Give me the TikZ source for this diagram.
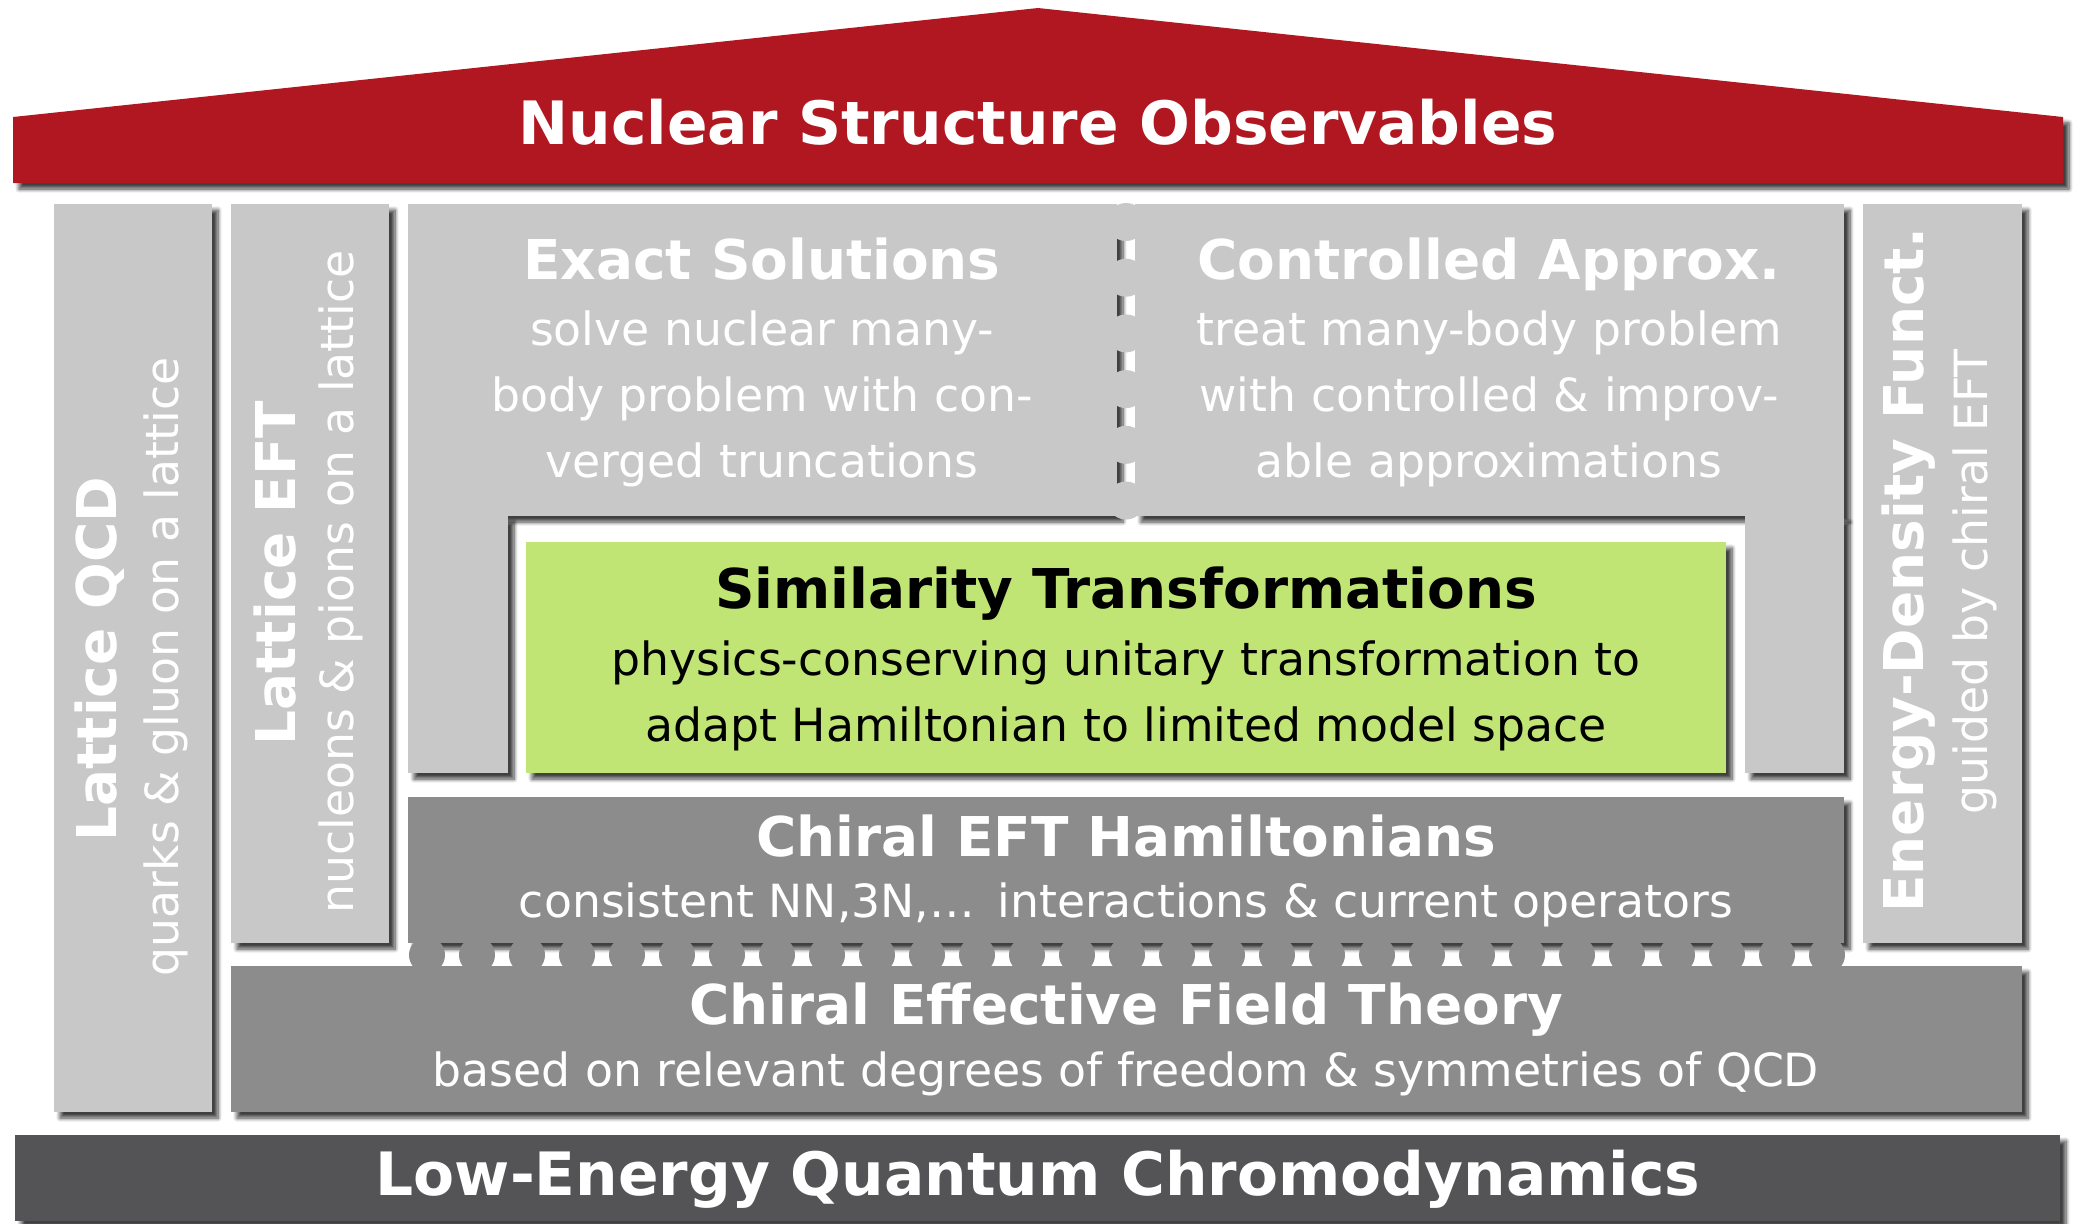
\documentclass[tikz,border=0pt]{standalone}
\usepackage{fontspec}
\setmainfont{DejaVu Sans}
\usetikzlibrary{shadows.blur}

\definecolor{roofred}{RGB}{176,23,32}
\definecolor{pillar}{RGB}{200,200,200}
\definecolor{floor}{RGB}{140,140,140}
\definecolor{ground}{RGB}{84,84,86}
\definecolor{simgreen}{RGB}{192,229,116}

\tikzset{
  box/.style={blur shadow={shadow xshift=0.06cm,shadow yshift=-0.06cm,
      shadow blur radius=0.04cm,shadow blur steps=8,shadow opacity=75}},
  title/.style={text=white,inner sep=0pt,font=\fontsize{17}{20}\selectfont\bfseries},
  head/.style={text=white,inner sep=0pt,font=\fontsize{15.6}{19}\selectfont\bfseries},
  body/.style={text=white,inner sep=0pt,align=center,font=\fontsize{13}{18.8}\selectfont},
}

\begin{document}
\begin{tikzpicture}[x=0.01cm,y=-0.01cm]
\useasboundingbox (0,0) rectangle (2074,1223);

% roof
\fill[roofred,box] (13,117) -- (1038,8) -- (2063,117) -- (2063,183) -- (13,183) -- cycle;

% outer pillars
\fill[pillar,box] (54,204) rectangle (212,1112);
\fill[pillar,box] (231,204) rectangle (389,943);
\fill[pillar,box] (1863,204) rectangle (2022,943);

% many-body methods with their legs
\fill[pillar,box] (408,204) rectangle (1117,516);
\fill[pillar,box] (408,516) rectangle (508,773);
\fill[pillar,box] (1135,204) rectangle (1844,516);
\fill[pillar,box] (1745,516) rectangle (1844,773);

\fill[simgreen,box] (526,542) rectangle (1726,773);

% floors
\fill[floor,box] (408,797) rectangle (1844,943);
\fill[floor,box] (231,966) rectangle (2022,1112);
\fill[ground,box] (15,1135) rectangle (2060,1221);

% dotted joints
\foreach \k in {0,...,5}
  \fill[pillar] (1126,{222+55.7*\k}) circle[radius=0.19cm];
\foreach \k in {0,...,28}
  \fill[floor] ({427+50*\k},955) circle[radius=0.18cm];

% labels
\node[title] (nso) at (1038,122) {Nuclear Structure Observables};
\node[title] (lqcd) at (1038,1179) {Low-Energy Quantum Chromodynamics};

\node[head] (exh) at (762,259) {Exact Solutions};
\node[body] (exb) at (762,399) {solve nuclear many-\\body problem with con-\\verged truncations};
\node[head] (cah) at (1489,264) {Controlled Approx.};
\node[body] (cab) at (1489,399) {treat many-body problem\\with controlled \& improv-\\able approximations};

\node[head,text=black] (srgh) at (1126,594) {Similarity Transformations};
\node[body,text=black] (srgb) at (1126,696) {physics-conserving unitary transformation to\\adapt Hamiltonian to limited model space};

\node[head] (hamh) at (1126,836) {Chiral EFT Hamiltonians};
\node[body] (hamb) at (1126,905) {consistent NN,3N,…\ \,interactions \& current operators};
\node[head] (efth) at (1126,1010) {Chiral Effective Field Theory};
\node[body] (eftb) at (1126,1074) {based on relevant degrees of freedom \& symmetries of QCD};

\node[head,rotate=90] (lqh) at (100,659) {Lattice QCD};
\node[body,rotate=90] (lqb) at (166,667) {quarks \& gluon on a lattice};
\node[head,rotate=90] (leh) at (275,573) {Lattice EFT};
\node[body,rotate=90] (leb) at (341,582) {nucleons \& pions on a lattice};
\node[head,rotate=90] (edh) at (1909,570) {Energy-Density Funct.};
\node[body,rotate=90] (edb) at (1975,582) {guided by chiral EFT};

\end{tikzpicture}
\end{document}
